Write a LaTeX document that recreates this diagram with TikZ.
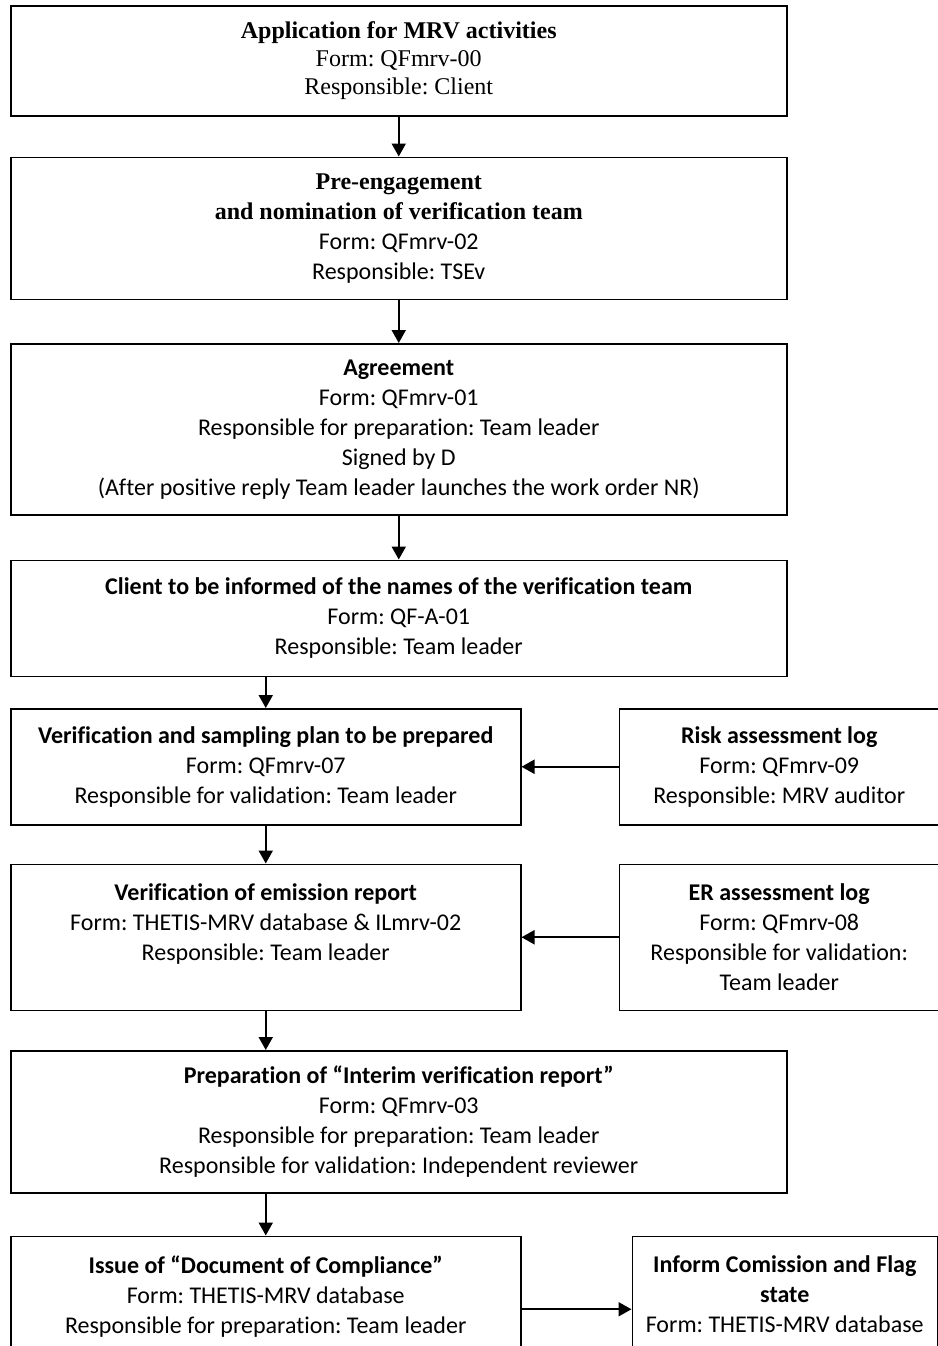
\documentclass[tikz,border=0pt]{standalone}
\usepackage{fontspec}
\setmainfont{Carlito}[Ligatures={NoCommon}]
\newfontfamily\timesfont{Liberation Serif}
\frenchspacing
\usepackage{tikz}
\usetikzlibrary{arrows.meta, positioning}
\tikzstyle{box} = [rectangle, draw=black, line width=0.75pt, align=center, inner sep=1pt, minimum width=388pt, font=\fontsize{12}{15}\selectfont]
\tikzstyle{half} = [box, minimum width=255pt]
\tikzstyle{side} = [box, minimum width=160pt]
\tikzstyle{arrow} = [line width=1pt, -{Triangle[length=6.5pt, width=7pt]}]

\begin{document}
\begin{tikzpicture}

\useasboundingbox (0,0) rectangle (469pt,-673pt);

% Application
\node[box, anchor=north west, minimum height=55pt, font=\timesfont\fontsize{12}{14}\selectfont] (app) at (5pt,-2.5pt) {\textbf{Application for MRV activities}\\Form: QFmrv-00\\Responsible: Client};

% Pre-engagement
\node[box, below=20pt of app, minimum height=71pt] (preeng) {{\timesfont\textbf{Pre-engagement}}\\{\timesfont\textbf{and nomination of verification team}}\\Form: QFmrv-02\\Responsible: TSEv};

% Agreement
\node[box, below=21.5pt of preeng, minimum height=85.5pt] (agree) {\textbf{Agreement}\\Form: QFmrv-01\\Responsible for preparation: Team leader\\Signed by D\\(After positive reply Team leader launches the work order NR)};

% Client informed
\node[box, below=22pt of agree, minimum height=58pt] (inform) {\textbf{Client to be informed of the names of the verification team}\\Form: QF-A-01\\Responsible: Team leader};

% Sampling plan + risk log
\node[half, below=15.5pt of inform.south west, anchor=north west, minimum height=58pt] (plan) {\textbf{Verification and sampling plan to be prepared}\\Form: QFmrv-07\\Responsible for validation: Team leader};
\node[side, right=48.5pt of plan.north east, anchor=north west, minimum height=58pt] (risk) {\textbf{Risk assessment log}\\Form: QFmrv-09\\Responsible: MRV auditor};

% Emission report + ER log
\node[half, below=19pt of plan, minimum height=73pt] (emission) {\textbf{Verification of emission report}\\Form: THETIS-MRV database \& ILmrv-02\\Responsible: Team leader\\\mbox{}};
\node[side, right=48.5pt of emission.north east, anchor=north west, minimum height=73pt] (erlog) {\textbf{ER assessment log}\\Form: QFmrv-08\\Responsible for validation:\\Team leader};

% Interim report
\node[box, below=19.5pt of emission.south west, anchor=north west, minimum height=71pt] (interim) {\textbf{Preparation of “Interim verification report”}\\Form: QFmrv-03\\Responsible for preparation: Team leader\\Responsible for validation: Independent reviewer};

% Document of compliance + flag state
\node[half, below=21pt of interim.south west, anchor=north west, minimum height=73pt] (doc) {\textbf{Issue of “Document of Compliance”}\\Form: THETIS-MRV database\\Responsible for preparation: Team leader\\\mbox{}};
\node[box, minimum width=152.5pt, right=55pt of doc.north east, anchor=north west, minimum height=73pt] (flag) {\textbf{Inform Comission and Flag}\\\textbf{state}\\Form: THETIS-MRV database\\\mbox{}};

% Arrows
\draw[arrow] (app) -- (preeng);
\draw[arrow] (preeng) -- (agree);
\draw[arrow] (agree) -- (inform);
\draw[arrow] (plan.north |- inform.south) -- (plan);
\draw[arrow] (risk) -- (plan);
\draw[arrow] (plan) -- (emission);
\draw[arrow] (erlog) -- (emission);
\draw[arrow] (emission.south) -- (emission.south |- interim.north);
\draw[arrow] (emission.south |- interim.south) -- (doc);
\draw[arrow] (doc) -- (flag);

\end{tikzpicture}
\end{document}
